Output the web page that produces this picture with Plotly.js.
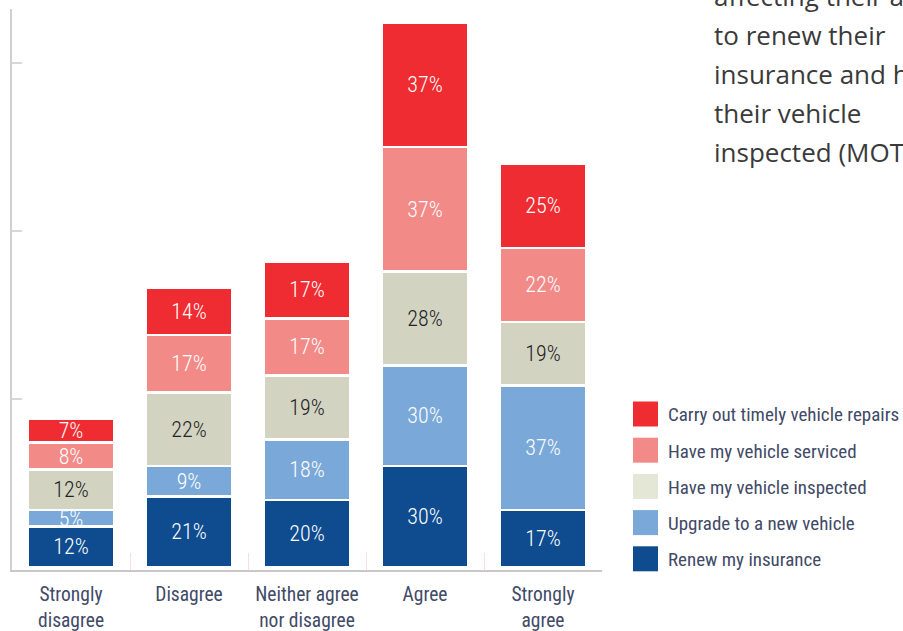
<!DOCTYPE html>
<html>
<head>
<meta charset="utf-8">
<script src="https://cdn.plot.ly/plotly-3.0.1.min.js"></script>
<style>html,body{margin:0;padding:0;background:#fff;}#chart{width:903px;height:631px;}</style>
</head>
<body>
<div id="chart"></div>
<script>
// ---- data ----
var categories = ["Strongly<br>disagree", "Disagree", "Neither agree<br>nor disagree", "Agree", "Strongly<br>agree"];
var seriesNames = ["Renew my insurance", "Upgrade to a new vehicle", "Have my vehicle inspected", "Have my vehicle serviced", "Carry out timely vehicle repairs"];
var renewInsurance   = [12, 21, 20, 30, 17];
var upgradeVehicle   = [5, 9, 18, 30, 37];
var vehicleInspected = [12, 22, 19, 28, 19];
var vehicleServiced  = [8, 17, 17, 37, 22];
var timelyRepairs    = [7, 14, 17, 37, 25];
var yTickValues = [50, 100, 150];
var sideTextLines = ["affecting their ability", "to renew their", "insurance and have", "their vehicle", "inspected (MOT)"];

// ---- styles ----
var barColors    = ["#0E4C8F", "#7AA9D9", "#D3D3C2", "#F28A88", "#EE2C31"];
var legendColors = ["#0E4C8F", "#7AA9D9", "#E5E7D6", "#F28A88", "#EE2C31"];
var textColors   = ["#ffffff", "#ffffff", "#222222", "#ffffff", "#ffffff"];
var narrow = "Roboto Condensed, Liberation Sans Narrow, sans-serif";
var labelColor = "#414A66";

var allSeries = [renewInsurance, upgradeVehicle, vehicleInspected, vehicleServiced, timelyRepairs];
var traces = allSeries.map(function (vals, i) {
  return {
    type: "bar",
    name: seriesNames[i],
    x: categories,
    y: vals,
    width: 0.725,
    marker: {color: barColors[i], line: {color: "#ffffff", width: 2.5}},
    texttemplate: "%{y}%",
    textposition: "inside",
    insidetextanchor: "middle",
    constraintext: "none",
    textangle: 0,
    cliponaxis: false,
    textfont: {family: narrow, size: 22, weight: 300, color: textColors[i]},
    hoverinfo: "skip",
    showlegend: false
  };
});

var W = 590, H = 561, L = 12, T = 9;
function px2paperX(px) { return (px - L) / W; }
function px2paperY(py) { return (T + H - py) / H; }

var shapes = [];
var annotations = [];
// custom legend (top entry = last series)
for (var k = 0; k < seriesNames.length; k++) {
  var idx = seriesNames.length - 1 - k;
  var cy = 414 + 36.2 * k;
  shapes.push({type: "rect", xref: "paper", yref: "paper",
    x0: px2paperX(633), x1: px2paperX(658), y0: px2paperY(cy + 12.5), y1: px2paperY(cy - 12.5),
    fillcolor: legendColors[idx], line: {width: 0}});
  annotations.push({xref: "paper", yref: "paper", x: px2paperX(666), y: px2paperY(cy + 1),
    xanchor: "left", yanchor: "middle", showarrow: false, text: seriesNames[idx],
    font: {family: narrow, size: 19, color: labelColor}});
}
// side text
for (var j = 0; j < sideTextLines.length; j++) {
  annotations.push({xref: "paper", yref: "paper", x: px2paperX(712), y: px2paperY(-4 + 39 * j),
    xanchor: "left", yanchor: "middle", showarrow: false, text: sideTextLines[j],
    font: {family: "Open Sans, sans-serif", size: 26, color: "#3A3A3A"}});
}

var layout = {
  width: 903, height: 631,
  margin: {l: L, r: 903 - L - W, t: T, b: 631 - T - H, pad: 0},
  paper_bgcolor: "#ffffff", plot_bgcolor: "#ffffff",
  barmode: "stack",
  showlegend: false,
  xaxis: {
    type: "category", range: [-0.5, 4.5],
    showline: true, linecolor: "#C8C8C8", linewidth: 2,
    ticks: "inside", tickson: "boundaries", ticklen: 17, tickwidth: 1, tickcolor: "#F9DDE1",
    showgrid: false, zeroline: false, tickangle: 0,
    tickfont: {family: narrow, size: 19.5, color: labelColor},
    ticklabelstandoff: 6
  },
  yaxis: {
    range: [-0.9, 166.1],
    showline: true, linecolor: "#D0D0D0", linewidth: 2,
    tickvals: yTickValues, ticks: "inside", ticklen: 10, tickwidth: 2, tickcolor: "#D8D8D8",
    showticklabels: false, showgrid: false, zeroline: false
  },
  shapes: shapes,
  annotations: annotations
};

Plotly.newPlot("chart", traces, layout, {displayModeBar: false, staticPlot: true});
</script>
</body>
</html>
